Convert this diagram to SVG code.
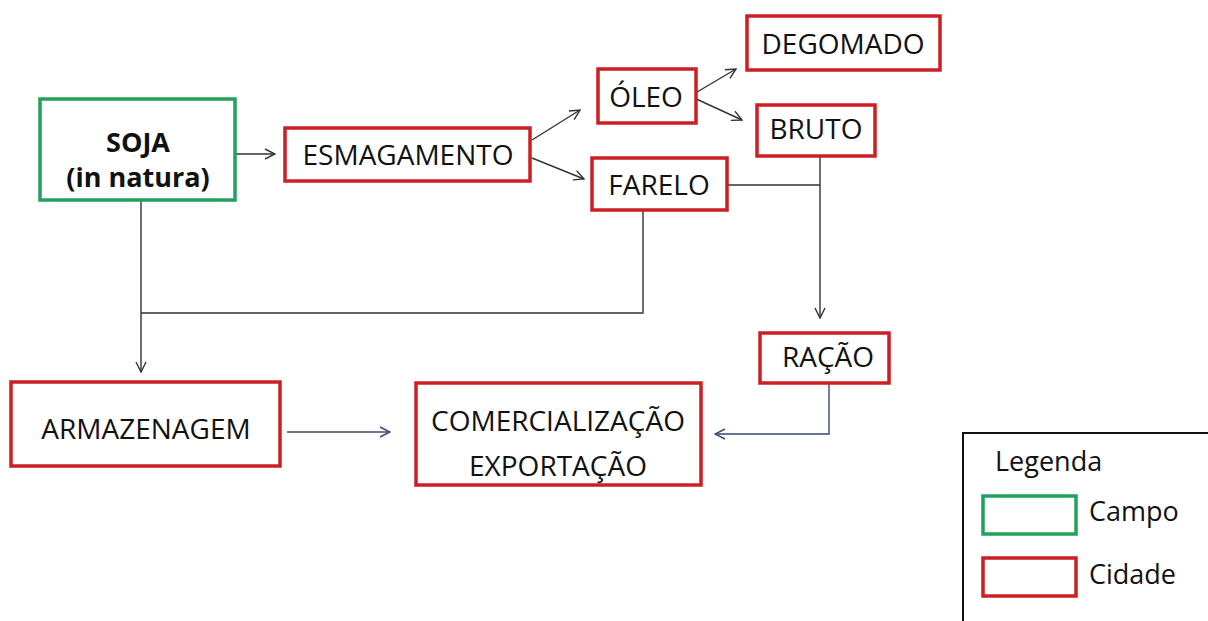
<svg xmlns="http://www.w3.org/2000/svg" width="1208" height="621" viewBox="0 0 1208 621">
<defs>
<style>
.red{fill:#fff;stroke:#cc1f24;stroke-width:3.5}
.green{fill:#fff;stroke:#23a05c;stroke-width:3.5}
.t{font-family:"Open Sans","Liberation Sans",sans-serif;font-size:28px;fill:#111;text-anchor:middle}
.b{font-weight:bold;font-size:27px}
.ln{fill:none;stroke:#333;stroke-width:1.4}
.lb{fill:none;stroke:#3a4a6e;stroke-width:1.4}
.lg{font-family:"Open Sans","Liberation Sans",sans-serif;font-size:27px;fill:#111}
</style>
<marker id="a" viewBox="0 0 12 12" refX="11" refY="6" markerWidth="12" markerHeight="12" markerUnits="userSpaceOnUse" orient="auto"><path d="M1,1 L11,6 L1,11" fill="none" stroke="#333" stroke-width="1.4"/></marker>
<marker id="ab" viewBox="0 0 12 12" refX="11" refY="6" markerWidth="12" markerHeight="12" markerUnits="userSpaceOnUse" orient="auto"><path d="M1,1 L11,6 L1,11" fill="none" stroke="#3a4a6e" stroke-width="1.4"/></marker>
</defs>
<rect width="1208" height="621" fill="#fff"/>
<g id="connectors">
<path class="ln" d="M235,154 L275,154" marker-end="url(#a)"/>
<path class="ln" d="M532,140 L580,110" marker-end="url(#a)"/>
<path class="ln" d="M532,158 L584,179" marker-end="url(#a)"/>
<path class="ln" d="M692,95 L736,69" marker-end="url(#a)"/>
<path class="ln" d="M692,97 L742,120" marker-end="url(#a)"/>
<path class="ln" d="M727,185 L820,185"/>
<path class="ln" d="M820,156 L820,318" marker-end="url(#a)"/>
<path class="ln" d="M643,210 L643,313 L141,313"/>
<path class="ln" d="M141,200 L141,372" marker-end="url(#a)"/>
<path class="lb" d="M287,432 L390,432" marker-end="url(#ab)"/>
<path class="lb" d="M829,383 L829,434 L715,434" marker-end="url(#ab)"/>
</g>
<g id="soja"><rect class="green" x="40" y="99" width="195" height="101"/><text class="t b" x="138" y="152">SOJA</text><text class="t b" x="138" y="187">(in natura)</text></g>
<g id="esmagamento"><rect class="red" x="285" y="128" width="245" height="53"/><text class="t" x="408" y="165">ESMAGAMENTO</text></g>
<g id="oleo"><rect class="red" x="598" y="69" width="98" height="54"/><text class="t" x="646" y="107">ÓLEO</text></g>
<g id="farelo"><rect class="red" x="592" y="158" width="135" height="52"/><text class="t" x="659" y="195">FARELO</text></g>
<g id="degomado"><rect class="red" x="747" y="16" width="193" height="54"/><text class="t" x="843" y="54">DEGOMADO</text></g>
<g id="bruto"><rect class="red" x="757" y="105" width="118" height="51"/><text class="t" x="816" y="139">BRUTO</text></g>
<g id="racao"><rect class="red" x="760" y="333" width="129" height="50"/><text class="t" x="828" y="367">RAÇÃO</text></g>
<g id="armazenagem"><rect class="red" x="11" y="382" width="269" height="84"/><text class="t" x="146" y="439">ARMAZENAGEM</text></g>
<g id="comercializacao"><rect class="red" x="416" y="383" width="285" height="102"/><text class="t" x="558" y="431">COMERCIALIZAÇÃO</text><text class="t" x="558" y="476">EXPORTAÇÃO</text></g>
<g id="legenda">
<rect x="963" y="433" width="250" height="200" fill="#fff" stroke="#111" stroke-width="2"/>
<text class="lg" x="995" y="471">Legenda</text>
<rect class="green" x="983" y="496" width="93" height="38"/>
<text class="lg" x="1089" y="521">Campo</text>
<rect class="red" x="983" y="558" width="93" height="38"/>
<text class="lg" x="1089" y="584">Cidade</text>
</g>
</svg>
